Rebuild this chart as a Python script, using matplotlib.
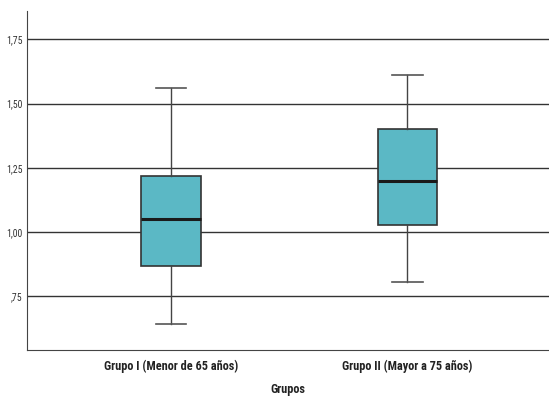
import matplotlib
matplotlib.use("Agg")
import matplotlib.pyplot as plt
from matplotlib import font_manager

# Box statistics
groups = ["Grupo I (Menor de 65 años)", "Grupo II (Mayor a 75 años)"]
whislo = [0.643, 0.807]
q1 = [0.868, 1.027]
med = [1.05, 1.20]
q3 = [1.218, 1.402]
whishi = [1.561, 1.611]

yticks = [0.75, 1.00, 1.25, 1.50, 1.75]
ytick_labels = [",75", "1,00", "1,25", "1,50", "1,75"]

names = {f.name for f in font_manager.fontManager.ttflist}
wanted = [n for n in ["Liberation Sans Narrow", "Roboto Condensed", "Roboto"] if n in names]
plt.rcParams["font.family"] = wanted[:1] + ["DejaVu Sans"]

fig = plt.figure(figsize=(5.49, 3.99), dpi=100)
ax = fig.add_axes([0.049, 0.1228, 0.951, 0.8496])

stats = []
for i in range(len(groups)):
    stats.append({"whislo": whislo[i], "q1": q1[i], "med": med[i],
                  "q3": q3[i], "whishi": whishi[i], "fliers": []})

ax.bxp(stats, positions=[1, 2], widths=0.25, patch_artist=True,
       boxprops=dict(facecolor="#5bb8c5", edgecolor="#333333", linewidth=1.2),
       medianprops=dict(color="#1a1a1a", linewidth=2.2),
       whiskerprops=dict(color="#444444", linewidth=1),
       capprops=dict(color="#555555", linewidth=1.2),
       capwidths=0.13, zorder=3)

for y in yticks:
    ax.axhline(y, color="#333333", linewidth=1, zorder=1)

ax.set_xlim(0.39, 2.6)
ax.set_ylim(0.541, 1.86)
ax.set_yticks(yticks)
ax.set_yticklabels(ytick_labels, fontsize=7, color="#333333")
ax.set_xticks([1, 2])
ax.set_xticklabels(groups, fontsize=8.8, fontweight="bold", color="#222222")
ax.tick_params(axis="both", length=0, pad=3)
ax.tick_params(axis="x", pad=7)
ax.set_xlabel("Grupos", fontsize=8.8, fontweight="bold", color="#222222", labelpad=7)

for s in ["top", "right"]:
    ax.spines[s].set_visible(False)
ax.spines["left"].set_color("#444444")
ax.spines["bottom"].set_color("#444444")

fig.savefig("out.png", dpi=100)
